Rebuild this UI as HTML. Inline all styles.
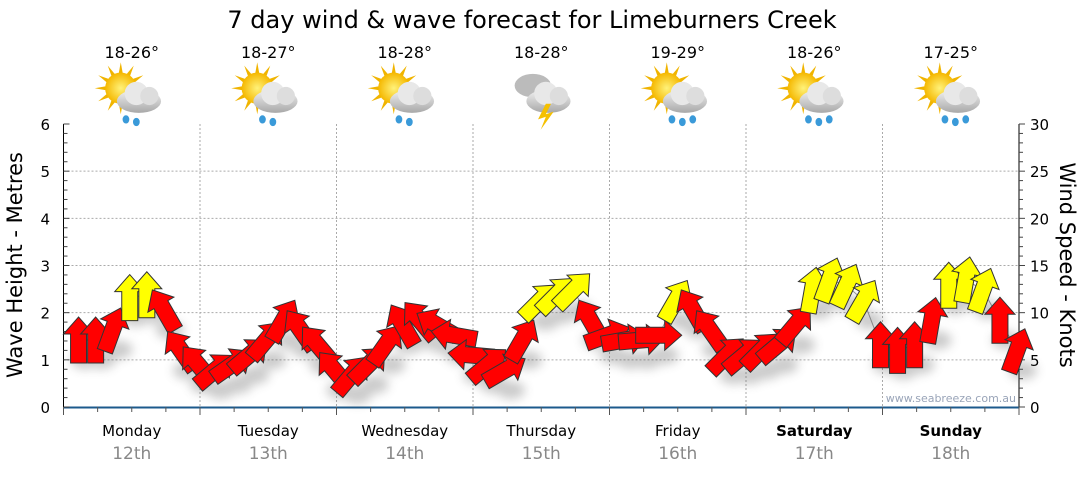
<!DOCTYPE html>
<html><head><meta charset="utf-8"><style>
body{margin:0;background:#fff;font-family:"Liberation Sans","DejaVu Sans",sans-serif}
svg text{font-family:"DejaVu Sans","Liberation Sans",sans-serif}
</style></head><body>
<svg id="c" width="1080" height="475" viewBox="0 0 1080 475">
<defs>
<filter id="sh" x="-50%" y="-50%" width="200%" height="200%"><feGaussianBlur stdDeviation="5"/></filter>
<radialGradient id="sun" cx="50%" cy="50%" r="50%"><stop offset="0" stop-color="#fff27a"/><stop offset="1" stop-color="#f5b800"/></radialGradient>
<linearGradient id="cl" x1="0" y1="0" x2="0" y2="1"><stop offset="0" stop-color="#f2f2f2"/><stop offset="1" stop-color="#a8a8a8"/></linearGradient>
</defs>
<text x="532" y="28" font-size="24" text-anchor="middle">7 day wind &amp; wave forecast for Limeburners Creek</text>
<g id="grid"></g><g id="axes"></g><g id="icons"></g><g id="marks"></g>
<text x="1016" y="402" font-size="11" fill="#99a4b8" text-anchor="end">www.seabreeze.com.au</text>
<text transform="translate(22,265) rotate(-90)" font-size="21" text-anchor="middle">Wave Height - Metres</text>
<text transform="translate(1060,265) rotate(90)" font-size="21" text-anchor="middle">Wind Speed - Knots</text>
</svg>
<script>
const days=["Monday","Tuesday","Wednesday","Thursday","Friday","Saturday","Sunday"];
const dates=["12th","13th","14th","15th","16th","17th","18th"];
const temps=["18-26°","18-27°","18-28°","18-28°","19-29°","18-26°","17-25°"];
const waveTicks=[0,1,2,3,4,5,6];
const knotTicks=[0,5,10,15,20,25,30];
const windKnots=[7.1,7.1,8.2,11.6,11.9,10.3,6.0,4.5, 3.9,4.5,5.5,7.1,9.2,8.2,6.6,3.9, 3.4,4.5,6.6,8.7,9.2,8.7,7.6,5.5, 4.5,3.9,7.1,11.2,11.9,12.4,9.2,7.6, 7.1,7.1,7.6,11.3,10.3,8.2,5.5,5.5, 6.0,6.6,8.7,12.4,13.5,12.9,11.3,6.6, 6.0,6.6,9.2,12.9,13.5,12.4,9.2,6.0];
const windDir=[0,0,20,0,0,-30,-35,-40, 50,55,50,40,30,-35,-40,-40, 40,45,35,-30,-40,-60,-80,-85, 50,60,30,45,45,45,-30,70, 80,85,90,30,-30,-35,45,50, 45,50,40,10,20,25,30,0, 0,0,10,0,10,20,0,20];
const gridEl=document.getElementById('grid'),axesEl=document.getElementById('axes'),marks=document.getElementById('marks'),icons=document.getElementById('icons');
const NS='http://www.w3.org/2000/svg';
const X0=63.5,X1=1019,Y0=407,Y1=124;
const xDay=d=>X0+(X1-X0)*d/7;
const yM=v=>Y0-(Y0-Y1)*v/6;
const yK=v=>Y0-(Y0-Y1)*v/30;
const xPt=i=>X0+(X1-X0)*(i+1)/56-2;
function mk(tag,attrs,parent){const e=document.createElementNS(NS,tag);for(const k in attrs)e.setAttribute(k,attrs[k]);parent.appendChild(e);return e;}
waveTicks.forEach(v=>{if(v>0&&v<6){const l=mk('line',{x1:X0,x2:X1,y1:yM(v),y2:yM(v),stroke:'#aaa','stroke-dasharray':'2,2'},gridEl);

}});
for(let d=1;d<7;d++){const l=mk('line',{x1:xDay(d),x2:xDay(d),y1:Y1,y2:Y0,stroke:'#aaa','stroke-dasharray':'2,2'},gridEl);

}
mk('line',{x1:X0,x2:X0,y1:Y1,y2:Y0+4,stroke:'#000'},axesEl);
mk('line',{x1:X1,x2:X1,y1:Y1,y2:Y0+4,stroke:'#000'},axesEl);
mk('line',{x1:X0,x2:X1,y1:Y0+0.5,y2:Y0+0.5,stroke:'#1c5a8c','stroke-width':2},axesEl);
for(let v=0;v<=30;v++){const y=yK(v);const w=v%5==0?6:4;
mk('line',{x1:X0,x2:X0+w,y1:y,y2:y,stroke:'#444'},axesEl);
mk('line',{x1:X1,x2:X1+w,y1:y,y2:y,stroke:'#444'},axesEl);}
for(let i=0;i<=28;i++){const x=X0+(X1-X0)*i/28;mk('line',{x1:x,x2:x,y1:Y0,y2:Y0+(i%4==0?8:5),stroke:'#555'},axesEl);}
waveTicks.forEach(v=>{const t=mk('text',{x:50,y:yM(v)+6,'font-size':15,'text-anchor':'end'},axesEl);t.textContent=v;

});
knotTicks.forEach(v=>{const t=mk('text',{x:1030,y:yK(v)+6,'font-size':15},axesEl);t.textContent=v;

});
days.forEach((d,i)=>{const cx=xDay(i+0.5);
const t=mk('text',{x:cx,y:436,'font-size':15,'text-anchor':'middle','font-weight':i>=5?'bold':'normal'},axesEl);t.textContent=d;


const t2=mk('text',{x:cx,y:459,'font-size':17,'text-anchor':'middle',fill:'#888'},axesEl);t2.textContent=dates[i];


const t3=mk('text',{x:cx,y:58,'font-size':16,'text-anchor':'middle'},icons);t3.textContent=temps[i];


const g=mk('g',{transform:`translate(${cx+2},96) scale(1.3)`},icons);


if(i!==3){for(let k=0;k<12;k++){const a=k*30*Math.PI/180;mk('polygon',{points:`${-10+Math.cos(a)*20},${-6+Math.sin(a)*20} ${-10+Math.cos(a+0.15)*11},${-6+Math.sin(a+0.15)*11} ${-10+Math.cos(a-0.15)*11},${-6+Math.sin(a-0.15)*11}`,fill:'#f0b400'},g);}
mk('circle',{cx:-10,cy:-6,r:12,fill:'url(#sun)'},g);}
else{mk('ellipse',{cx:-8,cy:-8,rx:14,ry:9,fill:'#bbb'},g);}
mk('ellipse',{cx:4,cy:4,rx:17,ry:9,fill:'url(#cl)'},g);mk('circle',{cx:2,cy:-2,r:9,fill:'#e8e8e8'},g);mk('circle',{cx:12,cy:0,r:7,fill:'#ddd'},g);
if(i===3){mk('polygon',{points:'2,6 -4,18 2,16 -2,26 8,12 2,14 6,6',fill:'#f5c000'},g);}
else{const n=(i>=4)?3:2;for(let r=0;r<n;r++){mk('ellipse',{cx:-6+r*8,cy:18+(r%2)*2,rx:2.6,ry:3.2,fill:'#3a9ad9'},g);}}
});
let pts=windKnots.map((v,i)=>`${xPt(i)},${yK(v)}`).join(' ');
mk('polyline',{points:pts,fill:'none',stroke:'#999','stroke-width':1},marks);
const sh=mk('g',{filter:'url(#sh)',opacity:0.3},marks);
windKnots.forEach((v,i)=>{mk('ellipse',{cx:xPt(i)+6,cy:yK(v)+20,rx:14,ry:9,fill:'#555'},sh);});
windKnots.forEach((v,i)=>{
const p=mk('polygon',{points:'-8,23 8,23 8,-6 15,-6 0,-23 -15,-6 -8,-6',fill:v>=11?'#ffff00':'#ff0000',stroke:'#333','stroke-width':1,transform:`translate(${xPt(i)},${yK(v)}) rotate(${windDir[i]})`},marks);


});
</script>
</body></html>
